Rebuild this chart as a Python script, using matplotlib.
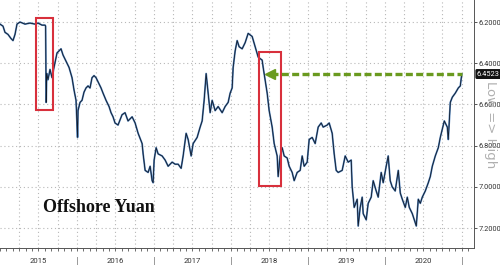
import numpy as np
import matplotlib.pyplot as plt
from matplotlib.patches import Rectangle
import matplotlib.transforms as mtransforms


# Offshore yuan (USD/CNH), time as decimal years
t = [2015.000, 2015.039, 2015.065, 2015.104, 2015.143, 2015.169, 2015.195, 2015.221,
     2015.260, 2015.325, 2015.390, 2015.455, 2015.494, 2015.546, 2015.585, 2015.593,
     2015.600, 2015.608, 2015.624, 2015.650, 2015.676, 2015.702, 2015.741, 2015.767,
     2015.793, 2015.819, 2015.858, 2015.897, 2015.936, 2015.962, 2015.988, 2016.008,
     2016.014, 2016.040, 2016.066, 2016.092, 2016.118, 2016.144, 2016.170, 2016.196,
     2016.222, 2016.248, 2016.274, 2016.313, 2016.339, 2016.378, 2016.417, 2016.443,
     2016.469, 2016.495, 2016.534, 2016.586, 2016.625, 2016.664, 2016.717, 2016.756,
     2016.795, 2016.847, 2016.860, 2016.886, 2016.925, 2016.951, 2016.977, 2016.990,
     2017.003, 2017.029, 2017.055, 2017.107, 2017.146, 2017.185, 2017.237, 2017.276,
     2017.315, 2017.354, 2017.380, 2017.419, 2017.445, 2017.484, 2017.510, 2017.562,
     2017.601, 2017.627, 2017.653, 2017.679, 2017.705, 2017.731, 2017.757, 2017.796,
     2017.835, 2017.887, 2017.926, 2017.965, 2017.991, 2018.017, 2018.030, 2018.056,
     2018.082, 2018.108, 2018.147, 2018.186, 2018.225, 2018.277, 2018.316, 2018.355,
     2018.407, 2018.420, 2018.472, 2018.498, 2018.537, 2018.563, 2018.602, 2018.615,
     2018.641, 2018.667, 2018.693, 2018.732, 2018.758, 2018.797, 2018.823, 2018.862,
     2018.901, 2018.927, 2018.953, 2018.992, 2019.018, 2019.057, 2019.096, 2019.135,
     2019.174, 2019.200, 2019.252, 2019.278, 2019.317, 2019.343, 2019.369, 2019.395,
     2019.447, 2019.486, 2019.525, 2019.564, 2019.577, 2019.603, 2019.642, 2019.655,
     2019.681, 2019.707, 2019.720, 2019.759, 2019.785, 2019.824, 2019.850, 2019.889,
     2019.915, 2019.954, 2019.980, 2020.019, 2020.045, 2020.071, 2020.097, 2020.136,
     2020.176, 2020.202, 2020.228, 2020.267, 2020.293, 2020.319, 2020.358, 2020.384,
     2020.410, 2020.436, 2020.462, 2020.488, 2020.527, 2020.566, 2020.592, 2020.618,
     2020.657, 2020.696, 2020.722, 2020.748, 2020.774, 2020.813, 2020.826, 2020.852,
     2020.878, 2020.917, 2020.956, 2020.982, 2021.001]
cnh = [6.21, 6.22, 6.25, 6.26, 6.28, 6.29, 6.26, 6.21,
       6.20, 6.21, 6.205, 6.21, 6.205, 6.215, 6.215, 6.22,
       6.59, 6.45, 6.48, 6.43, 6.47, 6.42, 6.35, 6.34,
       6.33, 6.36, 6.39, 6.42, 6.47, 6.53, 6.58, 6.76,
       6.63, 6.59, 6.58, 6.54, 6.52, 6.51, 6.52, 6.47,
       6.46, 6.47, 6.49, 6.52, 6.545, 6.58, 6.61, 6.64,
       6.66, 6.69, 6.70, 6.65, 6.64, 6.68, 6.66, 6.69,
       6.74, 6.79, 6.84, 6.92, 6.93, 6.90, 6.97, 6.98,
       6.87, 6.81, 6.84, 6.85, 6.87, 6.90, 6.88, 6.89,
       6.89, 6.91, 6.85, 6.74, 6.77, 6.85, 6.79, 6.76,
       6.71, 6.68, 6.58, 6.45, 6.545, 6.64, 6.58, 6.63,
       6.61, 6.64, 6.61, 6.59, 6.545, 6.52, 6.42, 6.34,
       6.29, 6.32, 6.33, 6.30, 6.255, 6.27, 6.32, 6.37,
       6.385, 6.42, 6.545, 6.63, 6.71, 6.79, 6.85, 6.95,
       6.85, 6.81, 6.85, 6.86, 6.90, 6.93, 6.97, 6.93,
       6.92, 6.85, 6.90, 6.88, 6.77, 6.76, 6.79, 6.71,
       6.69, 6.71, 6.70, 6.69, 6.74, 6.84, 6.92, 6.93,
       6.92, 6.85, 6.88, 6.87, 7.00, 7.10, 7.06, 7.19,
       7.10, 7.05, 7.13, 7.16, 7.08, 7.05, 6.97, 7.02,
       7.05, 6.93, 6.98, 6.90, 6.85, 6.97, 7.00, 7.02,
       6.92, 7.03, 7.06, 7.10, 7.05, 7.10, 7.13, 7.16,
       7.19, 7.06, 7.08, 7.05, 7.02, 6.98, 6.95, 6.90,
       6.85, 6.81, 6.76, 6.72, 6.68, 6.71, 6.77, 6.59,
       6.565, 6.545, 6.52, 6.51, 6.4523]

last_value = 6.4523
years = [2015, 2016, 2017, 2018, 2019, 2020]
yticks = [6.2, 6.4, 6.6, 6.8, 7.0, 7.2]

# highlighted episodes (start, end, low, high)
boxes = [(2015.468, 2015.689, 6.180, 6.627),
         (2018.372, 2018.654, 6.347, 6.995)]
arrow_from = 2018.472

fig = plt.figure(figsize=(5, 2.65), dpi=100)
ax = fig.add_axes([0, 0.064, 0.948, 0.936])

ax.plot(t, cnh, color='#5585bd', lw=1.3, solid_joinstyle='round')
ax.plot(t, cnh, color='#101a2a', lw=0.6, solid_joinstyle='round')

ax.set_xlim(2015.0, 2021.16)
ax.set_ylim(7.297, 6.093)

# grid
quarters = np.arange(2015.25, 2021.01, 0.25)
months = np.arange(2015.0, 2021.16, 1 / 12)
ax.set_xticks(quarters)
ax.set_xticks(months, minor=True)
ax.set_xticklabels([])
ax.set_yticks(yticks)
ax.set_yticklabels(['%.4f' % v for v in yticks], family='Roboto')
ax.grid(True, which='major', ls=(0, (1, 2.5)), color='#b8b8b8', lw=0.8)

ax.yaxis.tick_right()
ax.tick_params(axis='y', direction='out', length=2.2, width=0.7, colors='#555555',
               labelsize=5.3, pad=1, labelcolor='#333333')
ax.tick_params(axis='x', which='both', direction='out', length=2, width=0.6,
               colors='#555555')
for s in ['left', 'top']:
    ax.spines[s].set_visible(False)
for s in ['right', 'bottom']:
    ax.spines[s].set_color('#555555')
    ax.spines[s].set_linewidth(0.7)

# year labels and separators under the axis
tr = mtransforms.blended_transform_factory(ax.transData, ax.transAxes)
for y in years:
    ax.text(y + 0.5, -0.052, str(y), transform=tr, ha='center', va='center',
            fontsize=5.6, family='Roboto', color='#333333')
    ax.plot([y + 1, y + 1], [-0.036, -0.07], transform=tr, color='#999999',
            lw=0.7, clip_on=False)

# red boxes
for x0, x1, lo, hi in boxes:
    ax.add_patch(Rectangle((x0, lo), x1 - x0, hi - lo, fill=False,
                           ec='#d8303c', lw=1.5, zorder=5))

# green dashed arrow to the latest value
ax.plot([arrow_from + 0.05, 2021.0], [last_value, last_value], color='#6a9a1f',
        lw=2.4, ls=(0, (2.1, 1.0)), zorder=6)
ax.plot([arrow_from + 0.04], [last_value], marker='<', ms=7, color='#6a9a1f',
        mec='#6a9a1f', zorder=6)

# latest value tag
tr_y = mtransforms.blended_transform_factory(ax.transAxes, ax.transData)
ax.text(1.006, last_value, '%.4f' % last_value, transform=tr_y, ha='left',
        va='center', fontsize=5.3, family='Roboto', color='white',
        bbox=dict(boxstyle='round,pad=0.2', fc='#111111', ec='none'))

fig.text(0.982, 0.53, 'Low => High', rotation=-90, ha='center', va='center',
         fontsize=9.5, color='#b0b0b0')

fig.text(0.086, 0.20, 'Offshore Yuan', family='Liberation Serif',
         fontweight='bold', fontsize=13, color='#111111', va='baseline')

fig.savefig('out.png', dpi=100)
